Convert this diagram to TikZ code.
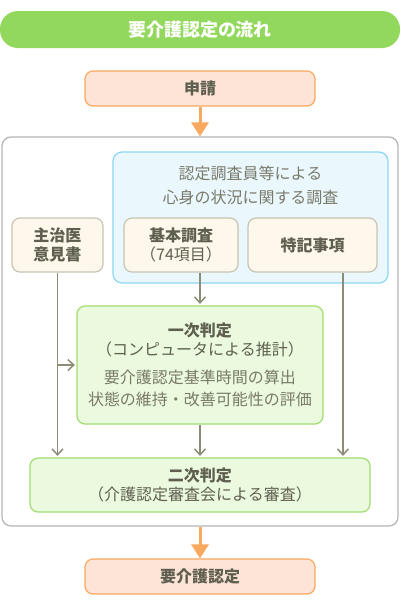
\documentclass[tikz,border=0pt]{standalone}
\usepackage{fontspec}
\setmainfont{Noto Sans CJK JP}
\usetikzlibrary{arrows.meta}
\definecolor{titlegreen}{RGB}{146,216,92}
\definecolor{peachfill}{RGB}{253,228,214}
\definecolor{orangeline}{RGB}{249,168,96}
\definecolor{textdark}{RGB}{95,95,80}
\definecolor{textlight}{RGB}{122,122,106}
\definecolor{outerline}{RGB}{180,180,180}
\definecolor{bluefill}{RGB}{234,248,253}
\definecolor{blueline}{RGB}{140,215,245}
\definecolor{creamfill}{RGB}{253,248,235}
\definecolor{creamline}{RGB}{200,196,180}
\definecolor{greenfill}{RGB}{235,250,222}
\definecolor{greenline}{RGB}{160,220,110}
\definecolor{arrowgray}{RGB}{140,140,120}
\begin{document}
\begin{tikzpicture}[x=1pt,y=-1pt,
  base/.style={inner sep=0pt, align=center, font=\fontsize{16}{19}\selectfont, text=textdark, line width=1.2pt, rounded corners=8pt},
  peachbox/.style={base, draw=orangeline, fill=peachfill},
  creambox/.style={base, draw=creamline, fill=creamfill},
  greenbox/.style={base, draw=greenline, fill=greenfill},
  garrow/.style={draw=arrowgray, line width=1.5pt, -{Straight Barb[length=6pt,width=11pt]}, shorten >=1.5pt},
  oarrow/.style={draw=orangeline, line width=3pt, -{Triangle[length=14pt,width=17pt]}}
]
\useasboundingbox (0,0) rectangle (400,606);
% title
\node[fill=titlegreen, rounded corners=18pt, minimum width=400pt, minimum height=37pt, inner sep=0pt,
  text=white, font=\fontsize{18}{20}\selectfont\bfseries] (title) at (200,29.5) {要介護認定の流れ};
% application
\node[peachbox, minimum width=230pt, minimum height=35pt, font=\fontsize{16}{19}\selectfont\bfseries] (apply) at (200,88.5) {申請};
% outer container
\node[draw=outerline, fill=white, line width=1.2pt, rounded corners=9pt, minimum width=396pt, minimum height=389pt, inner sep=0pt] (outer) at (200,331.5) {};
% blue container
\node[draw=blueline, fill=bluefill, line width=1.2pt, rounded corners=9pt, minimum width=275pt, minimum height=131pt, inner sep=0pt] (blue) at (250.5,217.5) {};
\node[base, text=textlight, font=\fontsize{16}{24}\selectfont] (bluelabel) at (250.5,185) {認定調査員等による\\心身の状況に関する調査};
% cream boxes
\node[creambox, minimum width=91pt, minimum height=54pt] (shuji) at (57.5,245) {\bfseries 主治医\\\bfseries 意見書};
\node[creambox, minimum width=114pt, minimum height=54pt] (kihon) at (181,245) {\bfseries 基本調査\\（74項目）};
\node[creambox, minimum width=129pt, minimum height=54pt] (tokki) at (312.5,245) {\bfseries 特記事項};
% first judgement
\node[greenbox, minimum width=246pt, minimum height=118pt] (ichiji) at (200,365)
  {\bfseries 一次判定\\（コンピュータによる推計）\\[9pt]
   \textcolor{textlight}{要介護認定基準時間の算出}\\[3pt]
   \textcolor{textlight}{状態の維持・改善可能性の評価}};
% second judgement
\node[greenbox, minimum width=340pt, minimum height=54pt] (niji) at (200,485) {\bfseries 二次判定\\（介護認定審査会による審査）};
% result
\node[peachbox, minimum width=230pt, minimum height=35pt, font=\fontsize{16}{19}\selectfont\bfseries] (result) at (200,576.5) {要介護認定};
% connectors
\draw[oarrow] (apply.south) -- (outer.north);
\draw[oarrow] (outer.south) -- (result.north);
\draw[garrow] (kihon.south -| ichiji.north) -- (ichiji.north);
\draw[garrow] (shuji.south) -- (shuji.south |- niji.north);
\draw[garrow] (shuji.south |- ichiji.west) -- (ichiji.west);
\draw[garrow] (tokki.south -| 343,0) -- (343,0 |- niji.north);
\draw[garrow] (ichiji.south) -- (niji.north);
\end{tikzpicture}
\end{document}
